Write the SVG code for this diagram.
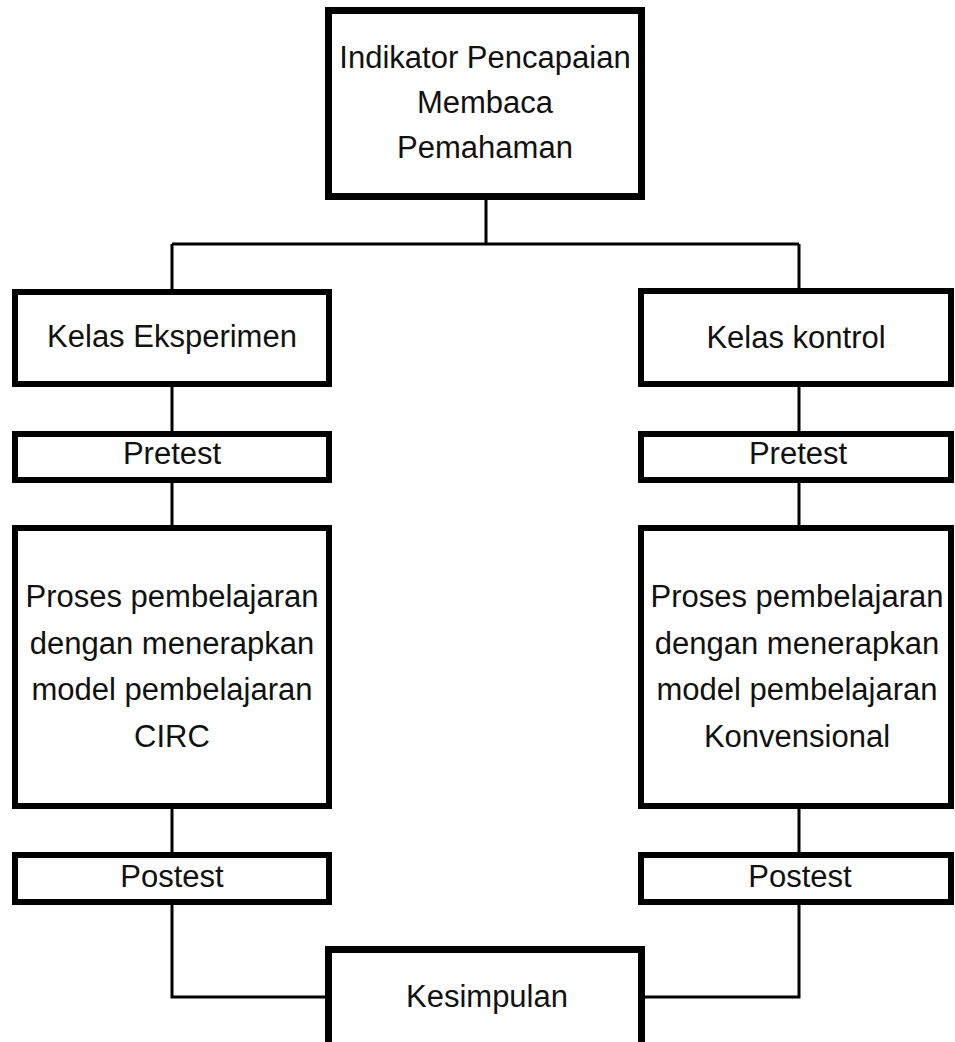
<svg xmlns="http://www.w3.org/2000/svg" width="955" height="1042" viewBox="0 0 955 1042">
<style>
.box{fill:#fff;stroke:#000;stroke-width:6}
.top{stroke-width:7}
.con{fill:none;stroke:#000;stroke-width:3}
text{font-family:"Liberation Sans",Arial,sans-serif;font-size:31px;fill:#111;text-anchor:middle}
</style>
<rect width="955" height="1042" fill="#fff"/>
<g id="connectors">
<path class="con" d="M486 200V244M172 244H799M172 244V289M799 244V288"/>
<path class="con" d="M172 387V431M799 387V431M172 483V525M799 483V525M172 809V852M799 809V852"/>
<path class="con" d="M172 905V997H325M799 905V997H645"/>
</g>
<g id="indikator">
<rect class="box top" x="328.5" y="10.5" width="313" height="186"/>
<text x="485" y="68">Indikator Pencapaian</text>
<text x="485" y="113">Membaca</text>
<text x="485" y="158">Pemahaman</text>
</g>
<g id="kelas-eksperimen">
<rect class="box" x="15" y="292" width="314" height="92"/>
<text x="172" y="347">Kelas Eksperimen</text>
</g>
<g id="kelas-kontrol">
<rect class="box" x="641" y="291" width="310" height="93"/>
<text x="796" y="348">Kelas kontrol</text>
</g>
<g id="pretest-eksperimen">
<rect class="box" x="15" y="434" width="314" height="46"/>
<text x="172" y="464">Pretest</text>
</g>
<g id="pretest-kontrol">
<rect class="box" x="641" y="434" width="310" height="46"/>
<text x="798" y="464">Pretest</text>
</g>
<g id="proses-circ">
<rect class="box" x="15" y="528" width="314" height="278"/>
<text x="172" y="607">Proses pembelajaran</text>
<text x="172" y="654">dengan menerapkan</text>
<text x="172" y="700">model pembelajaran</text>
<text x="172" y="747">CIRC</text>
</g>
<g id="proses-konvensional">
<rect class="box" x="641" y="528" width="310" height="278"/>
<text x="797" y="607">Proses pembelajaran</text>
<text x="797" y="654">dengan menerapkan</text>
<text x="797" y="700">model pembelajaran</text>
<text x="797" y="747">Konvensional</text>
</g>
<g id="postest-eksperimen">
<rect class="box" x="15" y="855" width="314" height="47"/>
<text x="172" y="887">Postest</text>
</g>
<g id="postest-kontrol">
<rect class="box" x="641" y="855" width="310" height="47"/>
<text x="800" y="887">Postest</text>
</g>
<g id="kesimpulan">
<rect class="box top" x="328.5" y="949.5" width="313" height="120"/>
<text x="487" y="1007">Kesimpulan</text>
</g>
</svg>
